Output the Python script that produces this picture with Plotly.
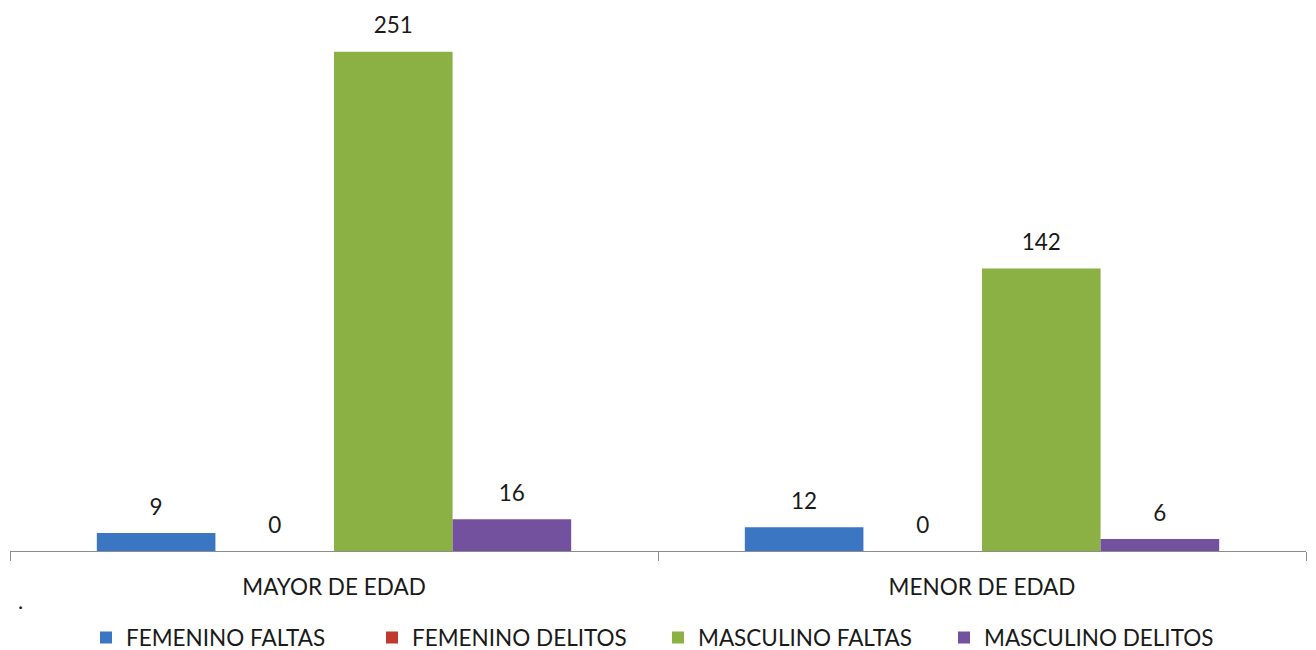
import plotly.graph_objects as go

categories = ["MAYOR DE EDAD", "MENOR DE EDAD"]
series_names = ["FEMENINO FALTAS", "FEMENINO DELITOS", "MASCULINO FALTAS", "MASCULINO DELITOS"]
femenino_faltas = [9, 12]
femenino_delitos = [0, 0]
masculino_faltas = [251, 142]
masculino_delitos = [16, 6]
colors = ["#3A76C2", "#C0392F", "#8BB044", "#74519E"]

values = [femenino_faltas, femenino_delitos, masculino_faltas, masculino_delitos]

FONT = "Lato, Carlito, sans-serif"
TXT = "#1a1a1a"
FS = 22.5

fig = go.Figure()
for i, (name, vals, col) in enumerate(zip(series_names, values, colors)):
    fig.add_trace(go.Bar(
        x=categories, y=vals, name=name,
        marker=dict(color=col, line=dict(width=0)),
        offsetgroup=str(i), alignmentgroup="a",
        hoverinfo="x+y+name",
    ))
for i, vals in enumerate(values):
    fig.add_trace(go.Scatter(
        x=categories, y=vals, mode="markers+text",
        text=[str(v) for v in vals], textposition="top center",
        textfont=dict(size=FS, color=TXT, family=FONT),
        marker=dict(size=19, opacity=0),
        offsetgroup=str(i), alignmentgroup="a",
        showlegend=False, cliponaxis=False, hoverinfo="skip",
    ))

# page body has an 8px margin, so the figure is sized to fill the remaining viewport
fig.update_layout(
    width=1308, height=642,
    margin=dict(l=2, r=10, t=20, b=99),
    paper_bgcolor="white", plot_bgcolor="white",
    barmode="group", bargap=0.268, bargroupgap=0,
    scattermode="group", scattergap=0.268,
    font=dict(family=FONT, size=FS, color=TXT),
    showlegend=True,
    legend=dict(orientation="h", x=0.5, xanchor="center", yref="container", y=0.019, yanchor="middle",
                font=dict(size=FS, family=FONT, color=TXT), traceorder="normal",
                itemwidth=30, entrywidth=241, entrywidthmode="pixels"),
    xaxis=dict(showline=True, linecolor="#8c8c8c", linewidth=1.25, ticks="outside",
               tickson="boundaries", ticklen=9, tickcolor="#8c8c8c", tickwidth=1.25,
               ticklabelstandoff=16, automargin=False,
               tickfont=dict(size=FS, family=FONT, color=TXT), showgrid=False),
    yaxis=dict(range=[0, 263], visible=False, showgrid=False, automargin=False),
    annotations=[dict(text=".", x=0.0, xanchor="left", xshift=6, y=-0.0937, yanchor="middle",
                      xref="paper", yref="paper", showarrow=False,
                      font=dict(size=22, color=TXT, family=FONT))],
)

fig.write_html("out.html")
